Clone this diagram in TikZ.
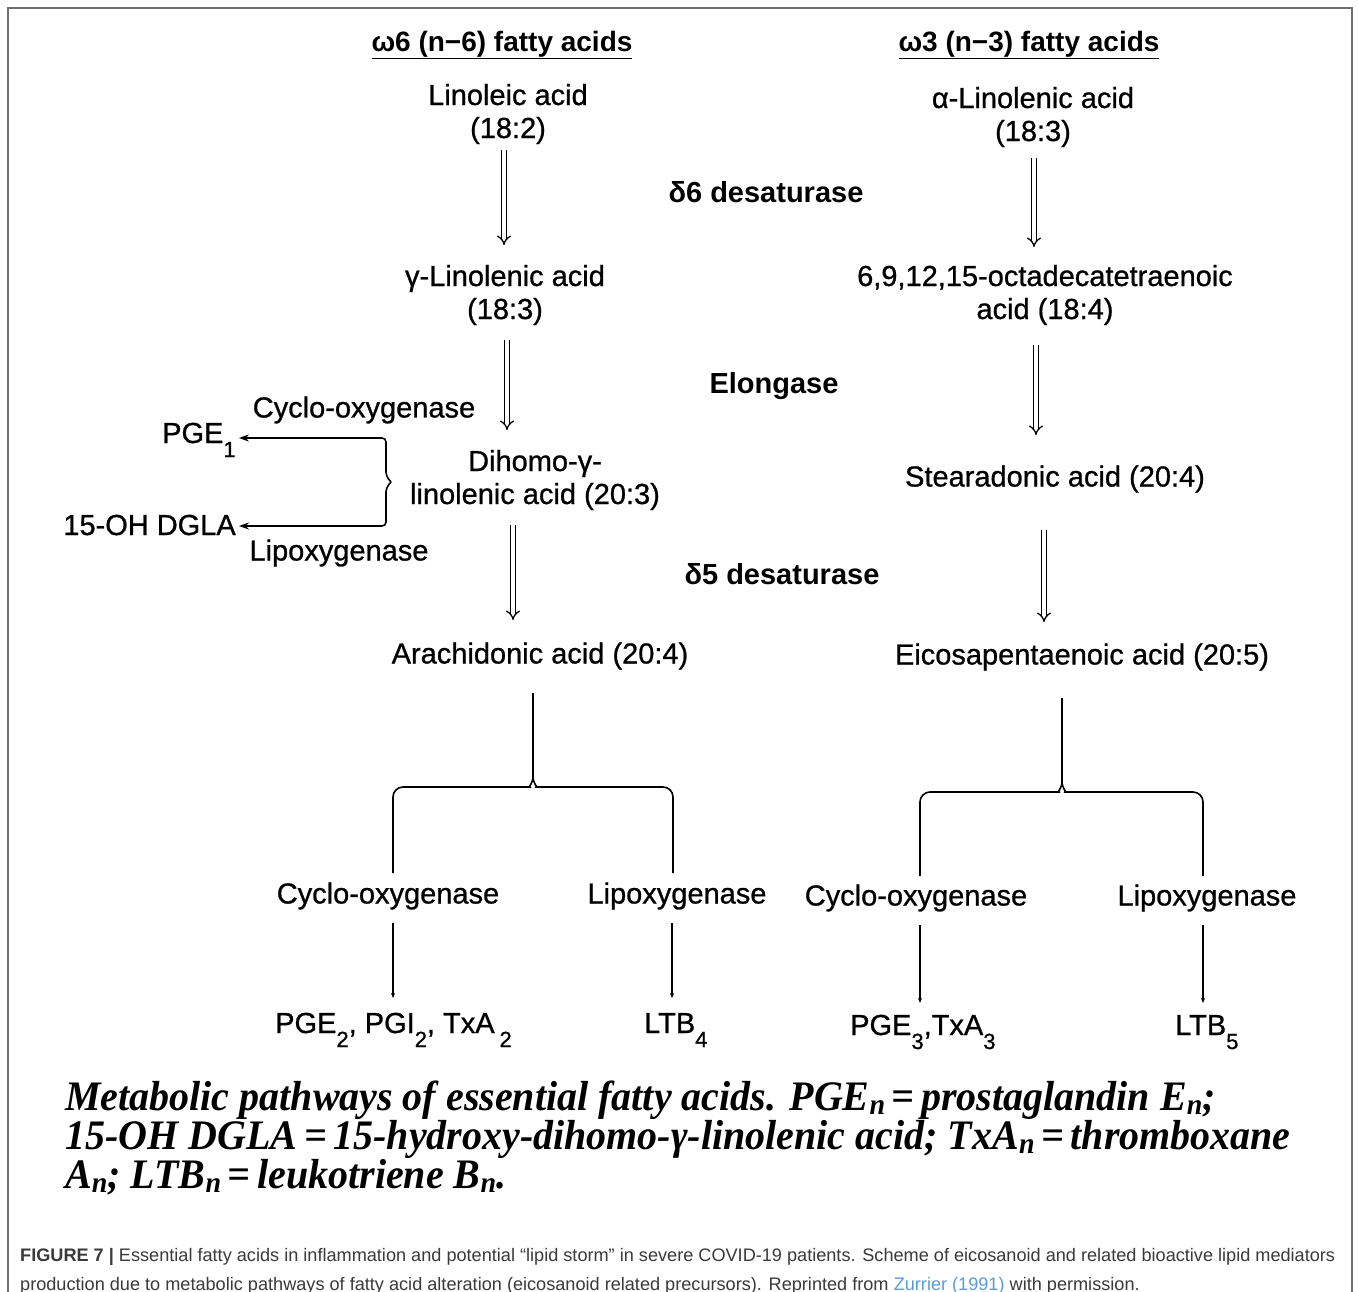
\documentclass[tikz,border=0pt]{standalone}
\usepackage{fontspec}
\usepackage{graphicx}
\setmainfont{Liberation Sans}
\newfontfamily\labfont[FakeBold=0.8]{Liberation Sans}
\newfontfamily\capserif{Liberation Serif}
\usetikzlibrary{arrows.meta}
\definecolor{framegrey}{HTML}{6E6E6E}
\definecolor{captxt}{HTML}{3A3A3A}
\definecolor{linkblue}{HTML}{5B9BD5}
\newcommand\dn[1]{\raisebox{-14pt}{\fontsize{22}{22}\selectfont #1}}
\newcommand\sbn{\raisebox{-0.1em}{\fontsize{28}{28}\selectfont n}}
\begin{document}
\begin{tikzpicture}[x=1pt,y=-1pt,
  lbl/.style={font=\labfont\fontsize{29}{33}\selectfont, align=center, inner sep=0pt},
  enz/.style={font=\fontsize{29}{33}\selectfont\bfseries, inner sep=0pt},
  hdr/.style={font=\fontsize{28}{32}\selectfont\bfseries, inner sep=0pt},
  leg/.style={font=\capserif\bfseries\itshape\fontsize{40}{40}\selectfont, inner sep=0pt, anchor=base west},
  dar/.style={double, double distance=3.5pt, line width=1.3pt, -{Implies}},
  tree/.style={line width=1.6pt},
  thinln/.style={line width=1.4pt, -{Stealth[length=5pt,width=4pt]}},
  sarr/.style={line width=1.6pt, -{Stealth[length=10pt,width=7pt]}, shorten >=3pt}]
\fill[white] (0,0) rectangle (1358,1292);
\useasboundingbox (0,0) rectangle (1358,1292);
\draw[framegrey, line width=2pt] (8,1292) -- (8,8) -- (1352,8) -- (1352,1292);

% headers
\node[hdr] (h6) at (502,45) {\underline{ω6 (n−6) fatty acids}};
\node[hdr] (h3) at (1029,45) {\underline{ω3 (n−3) fatty acids}};

% compounds
\node[lbl] (lin) at (508,114) {Linoleic acid\\(18:2)};
\node[lbl] (ala) at (1033,117) {α-Linolenic acid\\(18:3)};
\node[enz] (d6) at (766,192) {δ6 desaturase};
\node[lbl] (gla) at (505,295) {γ-Linolenic acid\\(18:3)};
\node[lbl] (sda) at (1045,295) {6,9,12,15-octadecatetraenoic\\acid (18:4)};
\node[enz] (elo) at (774,386) {Elongase};
\node[lbl] (dgla) at (535,480) {Dihomo-γ-\\linolenic acid (20:3)};
\node[lbl] (std) at (1055,479) {Stearadonic acid (20:4)};
\node[lbl] (cox1) at (364,410) {Cyclo-oxygenase};
\node[lbl, anchor=base west] (pge1) at (162,443) {PGE\dn{1}};
\node[lbl, anchor=base east] (ohd) at (236,535) {15-OH DGLA};
\node[lbl] (lox1) at (339,553) {Lipoxygenase};
\node[enz] (d5) at (782,574) {δ5 desaturase};
\node[lbl] (ara) at (540,656) {Arachidonic acid (20:4)};
\node[lbl] (epa) at (1082,657) {Eicosapentaenoic acid (20:5)};

\node[lbl] (cox2) at (388,896) {Cyclo-oxygenase};
\node[lbl] (lox2) at (677,896) {Lipoxygenase};
\node[lbl] (cox3) at (916,898) {Cyclo-oxygenase};
\node[lbl] (lox3) at (1207,898) {Lipoxygenase};
\node[lbl, anchor=base west] (p2) at (275,1033) {PGE\dn{2}, PGI\dn{2}, TxA\,\dn{2}};
\node[lbl, anchor=base west] (l4) at (644,1033) {LTB\dn{4}};
\node[lbl, anchor=base west] (p3) at (850,1035) {PGE\dn{3},TxA\dn{3}};
\node[lbl, anchor=base west] (l5) at (1175,1035) {LTB\dn{5}};

% double arrows
\coordinate (a1t) at (504,150); \coordinate (a1b) at (504,245);
\coordinate (a2t) at (507,340); \coordinate (a2b) at (507,430);
\coordinate (a3t) at (513,525); \coordinate (a3b) at (513,620);
\coordinate (b1t) at (1034,158); \coordinate (b1b) at (1034,247);
\coordinate (b2t) at (1036,345); \coordinate (b2b) at (1036,435);
\coordinate (b3t) at (1044,530); \coordinate (b3b) at (1044,622);
\draw[dar] (a1t) -- (a1b);
\draw[dar] (a2t) -- (a2b);
\draw[dar] (a3t) -- (a3b);
\draw[dar] (b1t) -- (b1b);
\draw[dar] (b2t) -- (b2b);
\draw[dar] (b3t) -- (b3b);

% left brace with arrows
\coordinate (bt) at (386,438);
\coordinate (bb) at (386,526);
\coordinate (bp) at (391,482);
\draw[sarr, rounded corners=4pt] (bp) -- (386,476) -- (bt) -- (bt -| pge1.east);
\draw[sarr, rounded corners=4pt] (bp) -- (386,488) -- (bb) -- (bb -| ohd.east);

% left tree
\coordinate (tl) at (533,693);
\draw[tree] (tl) -- (533,777);
\draw[tree, rounded corners=10pt] (393,873) -- (393,787) -- (520,787) .. controls (528,787) and (533,784) .. (533,776);
\draw[tree, rounded corners=10pt] (673,873) -- (673,787) -- (546,787) .. controls (538,787) and (533,784) .. (533,776);
\draw[thinln] (393,923) -- (393,998);
\draw[thinln] (672,923) -- (672,998);

% right tree
\coordinate (tr) at (1062,698);
\draw[tree] (tr) -- (1062,782);
\draw[tree, rounded corners=10pt] (920,876) -- (920,792) -- (1049,792) .. controls (1057,792) and (1062,789) .. (1062,781);
\draw[tree, rounded corners=10pt] (1203,876) -- (1203,792) -- (1075,792) .. controls (1067,792) and (1062,789) .. (1062,781);
\draw[thinln] (920,925) -- (920,1003);
\draw[thinln] (1203,925) -- (1203,1003);

% italic legend
\node[leg] (leg1) at (65,1110) {\scalebox{1}[1.05]{Metabolic pathways of essential fatty acids. PGE\sbn\,=\,prostaglandin E\sbn;}};
\node[leg] (leg2) at (65,1149) {\scalebox{1}[1.05]{15-OH DGLA\,=\,15-hydroxy-dihomo-γ-linolenic acid; TxA\sbn\,=\,thromboxane}};
\node[leg] (leg3) at (65,1188) {\scalebox{1}[1.05]{A\sbn; LTB\sbn\,=\,leukotriene B\sbn.}};

% figure caption
\node[anchor=north west, inner sep=0pt] (figcap) at (20,1241) {\resizebox{1315pt}{!}{\color{captxt}\fontsize{17}{27}\selectfont
\begin{tabular}{@{}l@{}}
\textbf{FIGURE 7 |} Essential fatty acids in inflammation and potential “lipid storm” in severe COVID-19 patients. Scheme of eicosanoid and related bioactive lipid mediators\\
production due to metabolic pathways of fatty acid alteration (eicosanoid related precursors). Reprinted from \textcolor{linkblue}{Zurrier (1991)} with permission.
\end{tabular}}};
\end{tikzpicture}
\end{document}
